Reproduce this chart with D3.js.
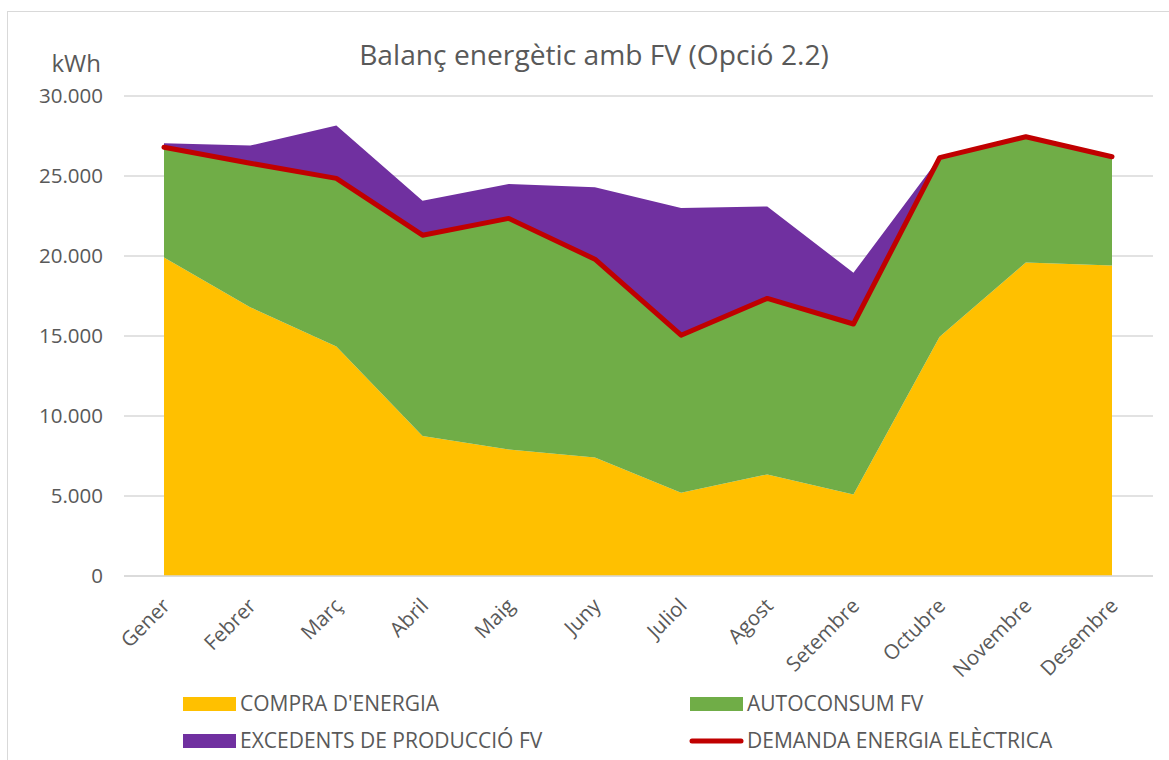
<!DOCTYPE html>
<html lang="ca">
<head>
<meta charset="UTF-8">
<script src="https://cdn.jsdelivr.net/npm/d3@7"></script>
<style>
  body { margin: 0; background: #fff; }
  text { font-family: "Open Sans", sans-serif; fill: #595959; }
</style>
</head>
<body>
<svg width="1169" height="760"></svg>
<script>
// dades (kWh per mes)
var mesos = ["Gener","Febrer","Març","Abril","Maig","Juny","Juliol","Agost","Setembre","Octubre","Novembre","Desembre"];
var compra = [19900, 16800, 14350, 8750, 7900, 7400, 5200, 6350, 5100, 14950, 19600, 19400];
var autoconsum = [6900, 9000, 10500, 12550, 14450, 12400, 9850, 11000, 10650, 11200, 7850, 6800];
var excedents = [250, 1100, 3300, 2150, 2150, 4500, 7950, 5750, 3200, 0, 0, 0];
var demanda = [26800, 25800, 24850, 21300, 22350, 19800, 15050, 17350, 15750, 26150, 27450, 26200];
var yTicks = [0, 5000, 10000, 15000, 20000, 25000, 30000];

var svg = d3.select("svg");

// marc del gràfic
svg.append("rect")
    .attr("x", 7.5).attr("y", 11.5)
    .attr("width", 1175).attr("height", 770)
    .attr("fill", "none")
    .attr("stroke", "#d9d9d9");

var x = d3.scalePoint().domain(mesos).range([164, 1112]);
var y = d3.scaleLinear().domain([0, 30000]).range([576, 96]);
var gridLeft = 124, gridRight = 1153;

var fmt = d3.formatLocale({decimal: ",", thousands: ".", grouping: [3], currency: ["", "€"]}).format(",d");

// graella
svg.append("g").selectAll("line")
    .data(yTicks)
    .join("line")
    .attr("x1", gridLeft).attr("x2", gridRight)
    .attr("y1", function(d){ return y(d); })
    .attr("y2", function(d){ return y(d); })
    .attr("stroke", "#d9d9d9")
    .attr("stroke-width", 1.5);

svg.append("g").selectAll("text")
    .data(yTicks)
    .join("text")
    .attr("x", 103)
    .attr("y", function(d){ return y(d); })
    .attr("dy", "0.35em")
    .attr("text-anchor", "end")
    .style("font-size", "20.5px")
    .text(function(d){ return fmt(d); });

svg.append("text")
    .attr("x", 101).attr("y", 72)
    .attr("text-anchor", "end")
    .style("font-size", "24px")
    .text("kWh");

// àrees apilades
var taula = mesos.map(function(m, i){
    return {mes: m, compra: compra[i], autoconsum: autoconsum[i], excedents: excedents[i]};
});
var keys = ["compra", "autoconsum", "excedents"];
var colors = {compra: "#FFC000", autoconsum: "#70AD47", excedents: "#7030A0"};
var series = d3.stack().keys(keys)(taula);

var area = d3.area()
    .x(function(d){ return x(d.data.mes); })
    .y0(function(d){ return y(d[0]); })
    .y1(function(d){ return y(d[1]); });

svg.append("g").selectAll("path")
    .data(series)
    .join("path")
    .attr("fill", function(d){ return colors[d.key]; })
    .attr("d", area);

// eix X
svg.append("line")
    .attr("x1", gridLeft).attr("x2", gridRight)
    .attr("y1", y(0)).attr("y2", y(0))
    .attr("stroke", "#d9d9d9")
    .attr("stroke-width", 1.5);

// línia de demanda
var line = d3.line()
    .x(function(d, i){ return x(mesos[i]); })
    .y(function(d){ return y(d); });

svg.append("path")
    .datum(demanda)
    .attr("fill", "none")
    .attr("stroke", "#C00000")
    .attr("stroke-width", 5)
    .attr("stroke-linejoin", "round")
    .attr("stroke-linecap", "round")
    .attr("d", line);

// etiquetes dels mesos
svg.append("g").selectAll("text")
    .data(mesos)
    .join("text")
    .attr("transform", function(d){ return "translate(" + (x(d) + 2) + "," + 602 + ") rotate(-45)"; })
    .attr("text-anchor", "end")
    .attr("dy", "0.35em")
    .style("font-size", "20.5px")
    .text(function(d){ return d; });

// títol
svg.append("text")
    .attr("x", 594).attr("y", 65)
    .attr("text-anchor", "middle")
    .style("font-size", "28.2px")
    .text("Balanç energètic amb FV (Opció 2.2)");

// llegenda
var llegenda = [
    {nom: "COMPRA D'ENERGIA", color: "#FFC000", tipus: "area", x: 183, y: 704},
    {nom: "AUTOCONSUM FV", color: "#70AD47", tipus: "area", x: 690, y: 704},
    {nom: "EXCEDENTS DE PRODUCCIÓ FV", color: "#7030A0", tipus: "area", x: 183, y: 741},
    {nom: "DEMANDA ENERGIA ELÈCTRICA", color: "#C00000", tipus: "line", x: 690, y: 741}
];

var lg = svg.append("g").selectAll("g")
    .data(llegenda)
    .join("g")
    .attr("transform", function(d){ return "translate(" + d.x + "," + d.y + ")"; });

lg.filter(function(d){ return d.tipus === "area"; })
    .append("rect")
    .attr("x", 0).attr("y", -7)
    .attr("width", 53).attr("height", 14)
    .attr("fill", function(d){ return d.color; });

lg.filter(function(d){ return d.tipus === "line"; })
    .append("line")
    .attr("x1", 2).attr("x2", 51)
    .attr("stroke", function(d){ return d.color; })
    .attr("stroke-width", 5)
    .attr("stroke-linecap", "round");

lg.append("text")
    .attr("x", 57)
    .attr("dy", "0.35em")
    .style("font-size", "21px")
    .text(function(d){ return d.nom; });
</script>
</body>
</html>
